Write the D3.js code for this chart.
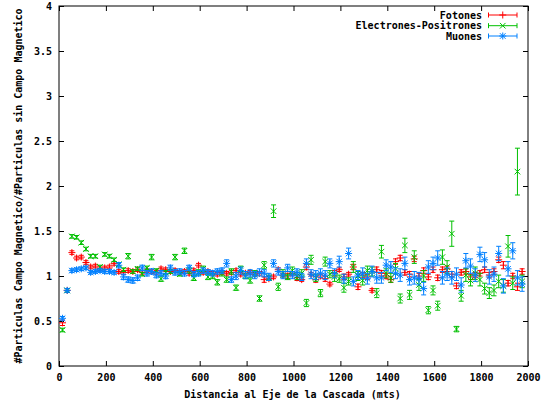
<!DOCTYPE html>
<html>
<head>
<meta charset="utf-8">
<script src="https://cdn.jsdelivr.net/npm/d3@7"></script>
<style>
  body { margin: 0; background: #fff; }
  text { font-family: "DejaVu Sans Mono", "Liberation Mono", monospace; font-weight: bold; font-size: 10px; fill: #000; }
</style>
</head>
<body>
<svg id="chart" width="547" height="404"></svg>
<script>
// Distance to the shower axis (m)
const distancias = [15,35,55,75,95,115,135,155,175,195,215,235,255,275,295,315,335,355,375,395,
  415,435,455,475,495,515,535,555,575,595,615,635,655,675,695,715,735,755,775,795,
  815,835,855,875,895,915,935,955,975,995,1015,1035,1055,1075,1095,1115,1135,1155,1175,1195,
  1215,1235,1255,1275,1295,1315,1335,1355,1375,1395,1415,1435,1455,1475,1495,1515,1535,1555,1575,1595,
  1615,1635,1655,1675,1695,1715,1735,1755,1775,1795,1815,1835,1855,1875,1895,1915,1935,1955,1975];

// Ratio with / without magnetic field, and its uncertainty
const fotones = [0.48,0.84,1.26,1.20,1.21,1.15,1.10,1.11,1.08,1.09,1.10,1.14,1.05,1.04,1.06,1.05,1.07,1.04,1.06,1.05,
  1.04,1.08,1.07,1.05,1.06,1.04,1.05,1.03,1.06,1.12,1.04,1.05,1.03,1.02,1.04,1.03,1.04,1.06,1.02,1.03,
  1.04,1.02,1.03,0.96,0.97,0.99,1.07,1.01,1.00,1.03,0.98,0.96,1.10,1.02,0.96,1.00,0.97,0.91,1.03,1.07,
  0.99,1.02,1.10,0.88,1.01,0.99,0.84,1.07,1.03,1.00,0.96,1.16,1.20,1.04,1.02,1.19,1.00,1.06,0.99,1.07,
  0.98,1.07,1.08,1.02,0.89,1.04,1.05,0.99,1.01,1.03,1.07,1.01,1.05,1.18,1.12,0.92,1.00,0.88,1.05];
const fotonesErr = [0.03,0.02,0.02,0.02,0.02,0.02,0.02,0.02,0.02,0.02,0.02,0.02,0.02,0.02,0.02,0.02,0.02,0.02,0.02,0.02,
  0.02,0.02,0.02,0.02,0.02,0.02,0.02,0.02,0.02,0.02,0.02,0.02,0.02,0.02,0.02,0.02,0.02,0.02,0.02,0.02,
  0.02,0.02,0.02,0.03,0.02,0.02,0.02,0.02,0.03,0.02,0.03,0.02,0.03,0.02,0.03,0.02,0.03,0.02,0.03,0.02,
  0.03,0.02,0.03,0.03,0.03,0.03,0.02,0.03,0.03,0.03,0.03,0.03,0.03,0.03,0.03,0.03,0.03,0.03,0.03,0.03,
  0.03,0.03,0.03,0.03,0.03,0.03,0.03,0.03,0.03,0.03,0.03,0.03,0.03,0.03,0.04,0.03,0.03,0.04,0.03];

const electrones = [0.40,0.84,1.44,1.43,1.37,1.30,1.22,1.22,1.10,1.24,1.22,1.18,1.13,1.07,1.22,1.05,1.08,1.02,1.09,1.21,
  1.06,0.97,1.04,1.05,1.21,1.02,1.28,1.06,0.98,1.04,1.08,0.99,1.00,0.93,1.03,0.96,1.05,0.87,1.08,1.00,
  0.95,1.03,0.75,1.12,0.98,1.72,0.88,1.03,0.99,1.06,1.00,1.03,0.70,1.18,0.98,0.81,1.16,1.02,0.99,0.97,
  0.87,0.94,1.10,1.00,0.95,1.06,1.05,0.81,1.27,1.03,0.98,1.08,0.75,1.34,0.79,1.21,0.90,1.00,0.62,0.84,
  0.67,1.21,1.10,1.47,0.41,0.78,1.01,0.95,1.03,0.96,0.86,0.81,0.84,0.94,0.89,1.33,0.92,2.16,0.94];
const electronesErr = [0.02,0.02,0.02,0.02,0.02,0.02,0.02,0.02,0.02,0.02,0.02,0.02,0.02,0.02,0.03,0.02,0.02,0.02,0.02,0.03,
  0.02,0.03,0.02,0.02,0.03,0.02,0.03,0.03,0.03,0.03,0.03,0.03,0.03,0.03,0.03,0.03,0.03,0.03,0.03,0.03,
  0.03,0.03,0.03,0.04,0.03,0.07,0.04,0.04,0.03,0.04,0.04,0.04,0.04,0.05,0.04,0.04,0.05,0.04,0.05,0.04,
  0.05,0.04,0.06,0.05,0.05,0.05,0.05,0.05,0.07,0.05,0.05,0.06,0.05,0.08,0.05,0.07,0.06,0.06,0.04,0.05,
  0.05,0.08,0.07,0.14,0.03,0.06,0.07,0.06,0.07,0.07,0.06,0.06,0.06,0.07,0.07,0.12,0.07,0.26,0.07];

const muones = [0.53,0.84,1.06,1.07,1.08,1.09,1.04,1.05,1.06,1.05,1.05,1.04,1.12,0.99,0.96,0.95,0.98,1.09,1.03,1.05,
  1.01,1.03,1.00,1.09,1.04,1.05,1.03,1.09,1.02,1.03,1.06,1.04,1.03,1.05,1.06,1.14,0.96,1.00,1.06,1.01,
  1.03,1.01,1.04,1.03,0.99,1.14,1.05,1.01,1.09,1.01,1.04,0.99,1.14,1.02,1.01,1.03,1.01,1.14,1.03,1.16,
  0.97,1.25,0.94,1.01,1.03,0.97,1.05,0.98,0.98,1.12,1.10,1.03,1.01,1.14,0.96,0.98,0.97,0.86,1.10,1.14,
  1.20,0.98,1.02,0.98,1.02,0.90,1.17,1.11,1.01,1.24,1.18,0.99,1.02,1.25,0.89,1.08,1.28,0.98,0.91];
const muonesErr = [0.02,0.02,0.02,0.02,0.02,0.02,0.02,0.02,0.02,0.02,0.02,0.02,0.03,0.03,0.03,0.03,0.03,0.03,0.03,0.03,
  0.03,0.03,0.03,0.03,0.03,0.03,0.03,0.03,0.03,0.03,0.03,0.03,0.03,0.03,0.03,0.04,0.03,0.04,0.04,0.04,
  0.04,0.04,0.04,0.04,0.04,0.04,0.04,0.04,0.04,0.04,0.04,0.04,0.05,0.05,0.05,0.05,0.05,0.05,0.05,0.06,
  0.05,0.06,0.05,0.05,0.06,0.06,0.06,0.06,0.06,0.06,0.06,0.06,0.07,0.07,0.06,0.07,0.07,0.07,0.07,0.07,
  0.08,0.07,0.07,0.07,0.07,0.08,0.08,0.08,0.07,0.08,0.08,0.08,0.08,0.08,0.08,0.08,0.09,0.08,0.08];

const xTicks = [0,200,400,600,800,1000,1200,1400,1600,1800,2000];
const yTicks = [0,0.5,1,1.5,2,2.5,3,3.5,4];

const series = [
  { name: "Fotones", values: fotones, err: fotonesErr, color: "#ff0000", symbol: "plus" },
  { name: "Electrones-Positrones", values: electrones, err: electronesErr, color: "#00c000", symbol: "cross" },
  { name: "Muones", values: muones, err: muonesErr, color: "#0080ff", symbol: "star" }
];

const svg = d3.select("#chart");
const plotLeft = 59, plotRight = 528, plotTop = 6, plotBottom = 366;
const x = d3.scaleLinear().domain([0, 2000]).range([plotLeft, plotRight]);
const y = d3.scaleLinear().domain([0, 4]).range([plotBottom, plotTop]);

// Axes with inward ticks, mirrored on the top and right edges
const tick = 5;
svg.append("g").attr("transform", `translate(0,${plotBottom})`)
  .call(d3.axisBottom(x).tickValues(xTicks).tickFormat(d3.format("d")).tickSize(-tick).tickPadding(8))
  .call(g => g.select(".domain").remove());
svg.append("g").attr("transform", `translate(0,${plotTop})`)
  .call(d3.axisTop(x).tickValues(xTicks).tickFormat("").tickSize(-tick))
  .call(g => g.select(".domain").remove());
svg.append("g").attr("transform", `translate(${plotLeft},0)`)
  .call(d3.axisLeft(y).tickValues(yTicks).tickFormat(d => String(d)).tickSize(-tick).tickPadding(7))
  .call(g => g.select(".domain").remove());
svg.append("g").attr("transform", `translate(${plotRight},0)`)
  .call(d3.axisRight(y).tickValues(yTicks).tickFormat("").tickSize(-tick))
  .call(g => g.select(".domain").remove());
svg.selectAll("g").attr("font-family", null).attr("font-size", null);
svg.selectAll(".tick line").attr("stroke", "#000");

svg.append("rect")
  .attr("x", plotLeft).attr("y", plotTop)
  .attr("width", plotRight - plotLeft).attr("height", plotBottom - plotTop)
  .attr("fill", "none").attr("stroke", "#000").attr("stroke-width", 1);

// Axis titles
svg.append("text").attr("x", 292.5).attr("y", 394).attr("dy", "0.35em")
  .attr("text-anchor", "middle").text("Distancia al Eje de la Cascada (mts)");
svg.append("text").attr("transform", "translate(18,186) rotate(-90)").attr("dy", "0.35em")
  .attr("text-anchor", "middle").text("#Particulas Campo Magnetico/#Particulas sin Campo Magnetico");

// Point symbols
const sz = 3.5;
function symbolPath(p, cx, cy, kind) {
  if (kind === "plus" || kind === "star") {
    p.moveTo(cx - sz, cy); p.lineTo(cx + sz, cy);
    p.moveTo(cx, cy - sz); p.lineTo(cx, cy + sz);
  }
  if (kind === "cross" || kind === "star") {
    const d = sz * 0.8;
    p.moveTo(cx - d, cy - d); p.lineTo(cx + d, cy + d);
    p.moveTo(cx - d, cy + d); p.lineTo(cx + d, cy - d);
  }
}
const cap = 2.5;

const plot = svg.append("g");
series.forEach(s => {
  const p = d3.path();
  s.values.forEach((v, i) => {
    const cx = x(distancias[i]);
    const y0 = y(v - s.err[i]), y1 = y(v + s.err[i]);
    p.moveTo(cx, y0); p.lineTo(cx, y1);
    p.moveTo(cx - cap, y0); p.lineTo(cx + cap, y0);
    p.moveTo(cx - cap, y1); p.lineTo(cx + cap, y1);
    symbolPath(p, cx, y(v), s.symbol);
  });
  plot.append("path").attr("d", p.toString())
    .attr("fill", "none").attr("stroke", s.color).attr("stroke-width", 1);
});

// Legend
const legRows = [15, 25.7, 36];
series.forEach((s, i) => {
  const ly = legRows[i];
  svg.append("text").attr("x", 482).attr("y", ly).attr("dy", "0.35em")
    .attr("text-anchor", "end").text(s.name);
  const p = d3.path();
  const x0 = 488.5, x1 = 517;
  p.moveTo(x0, ly); p.lineTo(x1, ly);
  p.moveTo(x0, ly - cap); p.lineTo(x0, ly + cap);
  p.moveTo(x1, ly - cap); p.lineTo(x1, ly + cap);
  symbolPath(p, (x0 + x1) / 2, ly, s.symbol);
  svg.append("path").attr("d", p.toString())
    .attr("fill", "none").attr("stroke", s.color).attr("stroke-width", 1);
});
</script>
</body>
</html>
